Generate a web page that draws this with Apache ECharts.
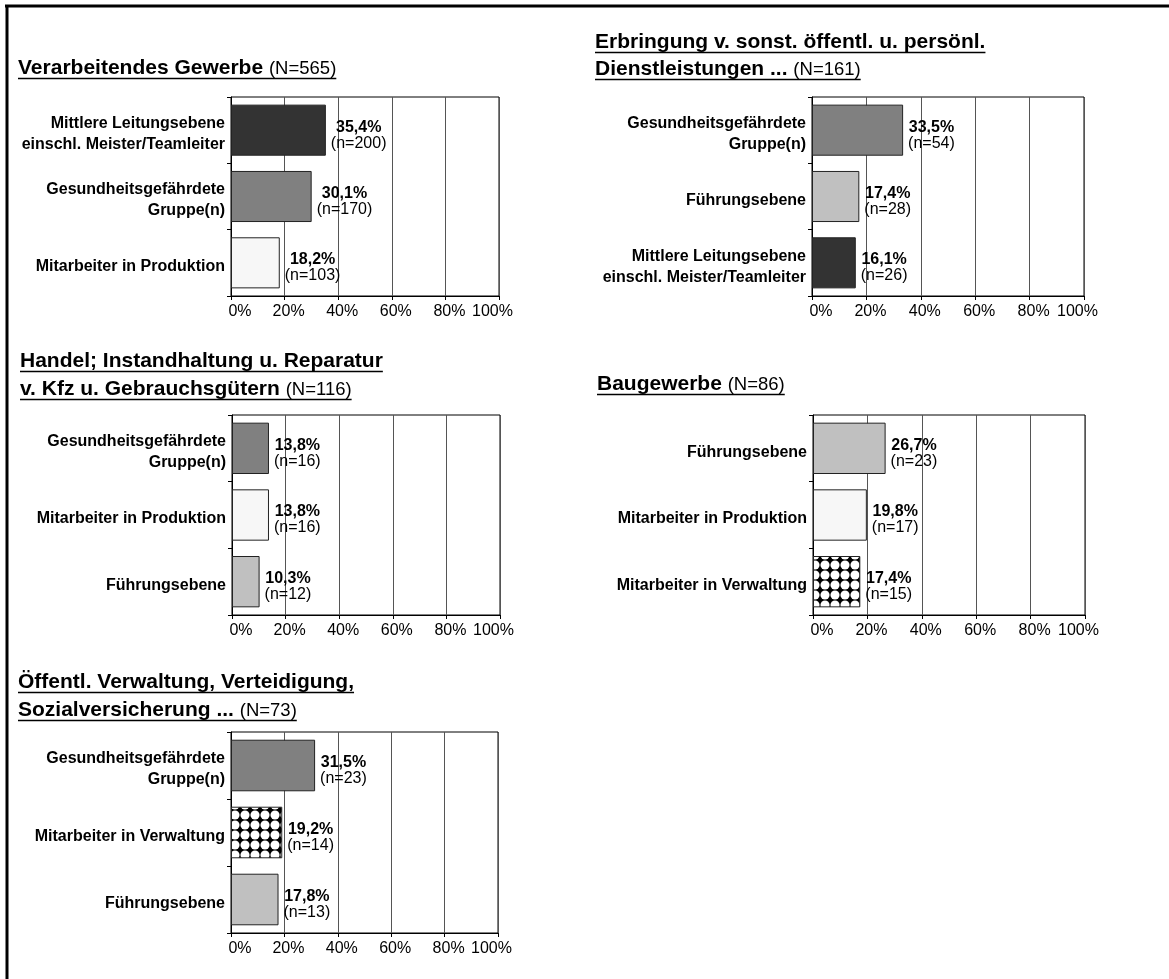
<!DOCTYPE html>
<html>
<head>
<meta charset="utf-8">
<script src="https://cdn.jsdelivr.net/npm/echarts@6/dist/echarts.min.js"></script>
<style>
html,body{margin:0;padding:0;background:#fff;}
#c{width:1169px;height:979px;}
</style>
</head>
<body>
<div id="c"></div>
<script>
// ---------- DATA ----------
const p1TitleLines = ['Verarbeitendes Gewerbe'];
const p1Total = 565;
const p1Categories = ['Mittlere Leitungsebene\neinschl. Meister/Teamleiter', 'Gesundheitsgefährdete\nGruppe(n)', 'Mitarbeiter in Produktion'];
const p1Values = [35.4, 30.1, 18.2];
const p1Counts = [200, 170, 103];

const p2TitleLines = ['Erbringung v. sonst. öffentl. u. persönl.', 'Dienstleistungen ...'];
const p2Total = 161;
const p2Categories = ['Gesundheitsgefährdete\nGruppe(n)', 'Führungsebene', 'Mittlere Leitungsebene\neinschl. Meister/Teamleiter'];
const p2Values = [33.5, 17.4, 16.1];
const p2Counts = [54, 28, 26];

const p3TitleLines = ['Handel; Instandhaltung u. Reparatur', 'v. Kfz u. Gebrauchsgütern'];
const p3Total = 116;
const p3Categories = ['Gesundheitsgefährdete\nGruppe(n)', 'Mitarbeiter in Produktion', 'Führungsebene'];
const p3Values = [13.8, 13.8, 10.3];
const p3Counts = [16, 16, 12];

const p4TitleLines = ['Baugewerbe'];
const p4Total = 86;
const p4Categories = ['Führungsebene', 'Mitarbeiter in Produktion', 'Mitarbeiter in Verwaltung'];
const p4Values = [26.7, 19.8, 17.4];
const p4Counts = [23, 17, 15];

const p5TitleLines = ['Öffentl. Verwaltung, Verteidigung,', 'Sozialversicherung ...'];
const p5Total = 73;
const p5Categories = ['Gesundheitsgefährdete\nGruppe(n)', 'Mitarbeiter in Verwaltung', 'Führungsebene'];
const p5Values = [31.5, 19.2, 17.8];
const p5Counts = [23, 14, 13];

const xTickValues = [0, 20, 40, 60, 80, 100];

// ---------- STYLE / LAYOUT ----------
const FONT = "'Liberation Sans', Arial, Helvetica, sans-serif";

function makePattern() {
  const c = document.createElement('canvas');
  c.width = 10; c.height = 10;
  const g = c.getContext('2d');
  g.fillStyle = '#000';
  g.fillRect(0, 0, 10, 10);
  g.fillStyle = '#fff';
  g.beginPath();
  g.arc(5, 5, 4.55, 0, Math.PI * 2);
  g.fill();
  return c;
}
const patternCanvas = makePattern();

function colorFor(cat) {
  if (cat.indexOf('Mittlere') === 0) return '#333333';
  if (cat.indexOf('Gesundheits') === 0) return '#808080';
  if (cat.indexOf('Führungs') === 0) return '#C0C0C0';
  if (cat.indexOf('Mitarbeiter in Produktion') === 0) return '#F7F7F7';
  if (cat.indexOf('Mitarbeiter in Verwaltung') === 0) return { image: patternCanvas, repeat: 'repeat' };
  return '#999';
}

const panels = [
  { lines: p1TitleLines, total: p1Total, cats: p1Categories, vals: p1Values, counts: p1Counts,
    grid: { left: 231, top: 97, width: 268, height: 199 }, tx: 18, ty: [68] },
  { lines: p2TitleLines, total: p2Total, cats: p2Categories, vals: p2Values, counts: p2Counts,
    grid: { left: 812, top: 97, width: 272, height: 199 }, tx: 595, ty: [42, 69] },
  { lines: p3TitleLines, total: p3Total, cats: p3Categories, vals: p3Values, counts: p3Counts,
    grid: { left: 232, top: 415, width: 268, height: 200 }, tx: 20, ty: [361, 389] },
  { lines: p4TitleLines, total: p4Total, cats: p4Categories, vals: p4Values, counts: p4Counts,
    grid: { left: 813, top: 415, width: 272, height: 200 }, tx: 597, ty: [384] },
  { lines: p5TitleLines, total: p5Total, cats: p5Categories, vals: p5Values, counts: p5Counts,
    grid: { left: 231, top: 732, width: 267, height: 201 }, tx: 18, ty: [682, 710] }
];

const measureCtx = document.createElement('canvas').getContext('2d');
function textWidth(str, font) {
  measureCtx.font = font;
  return measureCtx.measureText(str).width;
}
const TB = 21, TN = 18.5;
const TITLE_BOLD = 'bold ' + TB + 'px ' + FONT;
const TITLE_NORM = TN + 'px ' + FONT;

function fmtPct(v) { return v.toFixed(1).replace('.', ',') + '%'; }

// per-tick horizontal nudges of the x tick labels (as in the original's layout)
const tickRich = {
  t0: { fontSize: 16, fontFamily: FONT, color: '#000', padding: [0, 0, 0, 18] },
  tm: { fontSize: 16, fontFamily: FONT, color: '#000', padding: [0, 0, 0, 8] },
  t100: { fontSize: 16, fontFamily: FONT, color: '#000', padding: [0, 13, 0, 0] }
};
function tickFmt(v) {
  const s = v + '%';
  if (v === 0) return '{t0|' + s + '}';
  if (v === 100) return '{t100|' + s + '}';
  return '{tm|' + s + '}';
}

// category labels: bold, right aligned, nudged a little below the band centre
const catRich = {
  s: { fontSize: 1, lineHeight: 8, align: 'right' },
  c: { fontSize: 16, fontWeight: 'bold', fontFamily: FONT, color: '#000', lineHeight: 21, align: 'right' }
};
function catFmt(v) {
  return '{s| }\n' + v.split('\n').map(l => '{c|' + l + '}').join('\n');
}

const grids = [], xAxes = [], yAxes = [], series = [], graphics = [];

panels.forEach((p, i) => {
  grids.push(Object.assign({ show: true, borderColor: '#000', borderWidth: 1, backgroundColor: 'transparent', containLabel: false }, p.grid));
  xAxes.push({
    type: 'value', gridIndex: i, min: xTickValues[0], max: xTickValues[xTickValues.length - 1], interval: 20,
    axisLine: { show: true, lineStyle: { color: '#000', width: 1 } },
    axisTick: { show: true, length: 4, lineStyle: { color: '#000' } },
    splitLine: { show: true, lineStyle: { color: '#555', width: 1 } },
    axisLabel: { formatter: tickFmt, rich: tickRich, color: '#000', fontSize: 16, fontFamily: FONT, margin: 8 }
  });
  yAxes.push({
    type: 'category', gridIndex: i, data: p.cats, inverse: true,
    axisLine: { show: true, lineStyle: { color: '#000', width: 1 } },
    axisTick: { show: true, length: 4, lineStyle: { color: '#000' } },
    splitLine: { show: false },
    axisLabel: { formatter: catFmt, rich: catRich, color: '#000', fontSize: 16, fontWeight: 'bold', fontFamily: FONT, margin: 6, align: 'right' }
  });
  const counts = p.counts;
  series.push({
    type: 'bar', xAxisIndex: i, yAxisIndex: i,
    barCategoryGap: '23%',
    data: p.vals.map((v, k) => ({ value: v, itemStyle: { color: colorFor(p.cats[k]) } })),
    itemStyle: { borderColor: '#222', borderWidth: 1 },
    label: {
      show: true, position: 'right', distance: 5, offset: [0, 5],
      formatter: (prm) => '{v|' + fmtPct(prm.value) + '}\n{n|(n=' + counts[prm.dataIndex] + ')}',
      rich: {
        v: { fontWeight: 'bold', fontSize: 16, fontFamily: FONT, color: '#000', lineHeight: 16, align: 'center' },
        n: { fontSize: 16, fontFamily: FONT, color: '#000', lineHeight: 16, align: 'center' }
      }
    },
    emphasis: { disabled: true },
    animation: false
  });

  // titles with underline
  p.lines.forEach((line, li) => {
    const isLast = li === p.lines.length - 1;
    const y = p.ty[li];
    const wBold = textWidth(line, TITLE_BOLD);
    let total = wBold;
    graphics.push({
      type: 'text', left: p.tx, top: y - TB / 2,
      style: { text: line, font: TITLE_BOLD, fill: '#000' }
    });
    if (isLast) {
      const nStr = '(N=' + p.total + ')';
      const sp = textWidth(' ', TITLE_BOLD);
      graphics.push({
        type: 'text', left: p.tx + wBold + sp, top: y + 0.85 - TN / 2,
        style: { text: nStr, font: TITLE_NORM, fill: '#000' }
      });
      total = wBold + sp + textWidth(nStr, TITLE_NORM);
    }
    graphics.push({
      type: 'line', shape: { x1: p.tx, y1: y + 10.5, x2: p.tx + total, y2: y + 10.5 },
      style: { stroke: '#000', lineWidth: 1.6 }
    });
  });
});

// outer frame (top and left edges)
graphics.push({ type: 'line', shape: { x1: 5, y1: 6, x2: 1169, y2: 6 }, style: { stroke: '#000', lineWidth: 3 } });
graphics.push({ type: 'line', shape: { x1: 7, y1: 5, x2: 7, y2: 979 }, style: { stroke: '#000', lineWidth: 3 } });

const chart = echarts.init(document.getElementById('c'), null, { renderer: 'canvas' });
chart.setOption({
  animation: false,
  backgroundColor: '#fff',
  textStyle: { fontFamily: FONT },
  grid: grids,
  xAxis: xAxes,
  yAxis: yAxes,
  series: series,
  graphic: graphics
});
</script>
</body>
</html>
